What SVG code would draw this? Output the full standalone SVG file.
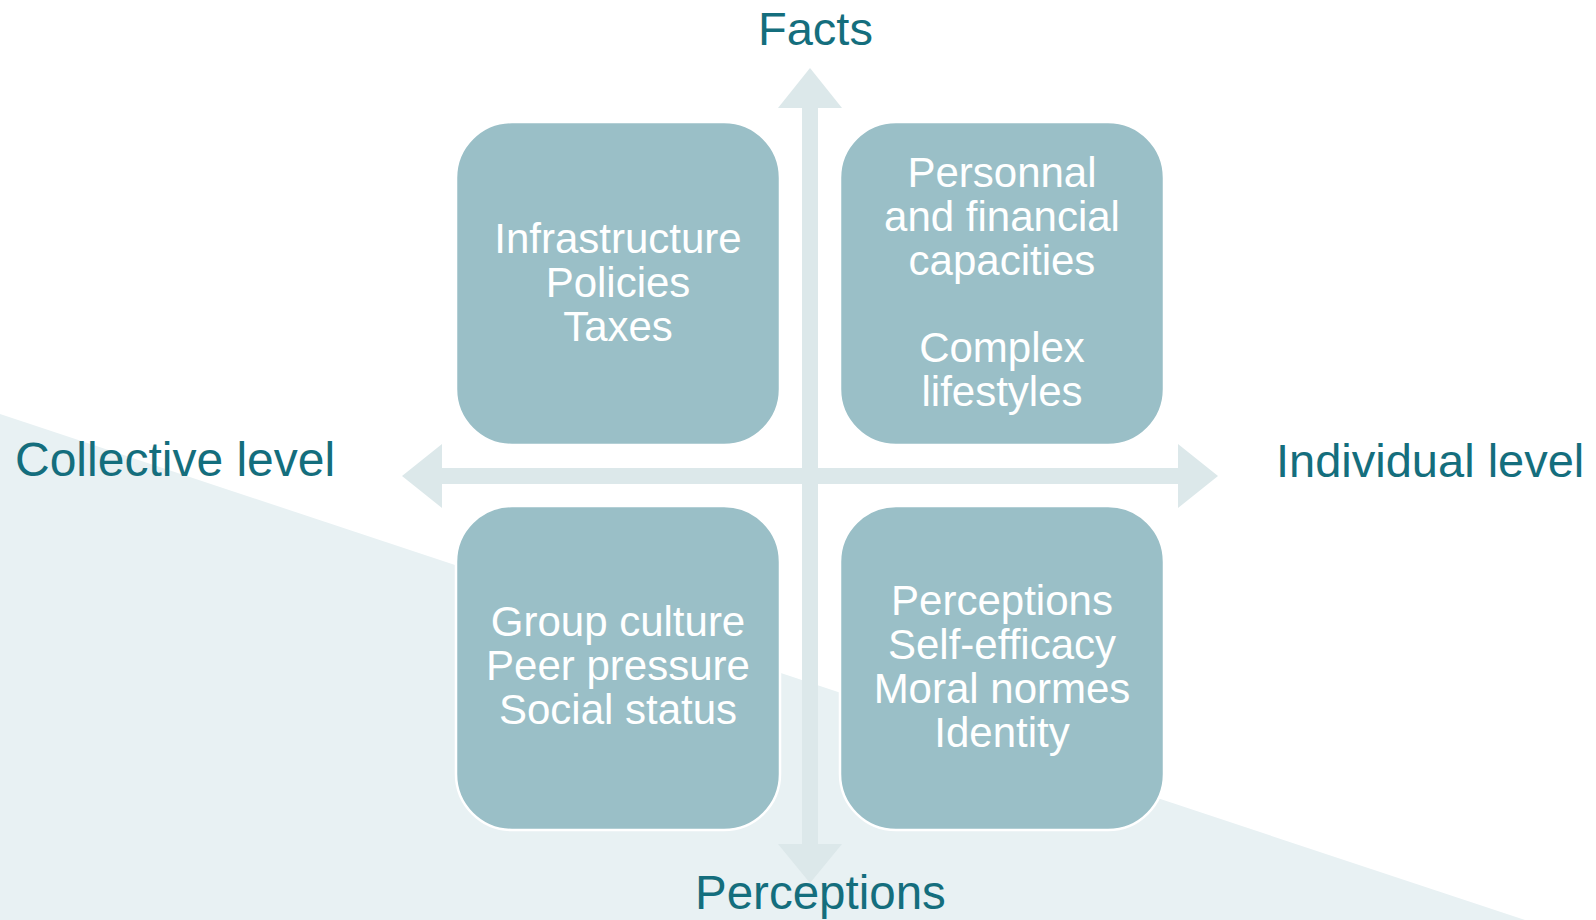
<svg xmlns="http://www.w3.org/2000/svg" width="1596" height="920" viewBox="0 0 1596 920">
<style>
.bg{fill:#e8f1f3}
.arrow{fill:#dce8ea}
.box{fill:#9abfc7;stroke:#ffffff;stroke-width:2.5}
.bt{font-family:"Liberation Sans",Arial,sans-serif;font-size:42px;fill:#ffffff;text-anchor:middle}
.ax{font-family:"Liberation Sans",Arial,sans-serif;font-size:47px;fill:#146e7d}
</style>
<rect x="0" y="0" width="1596" height="920" fill="#ffffff"/>
<polygon class="bg" points="0,414 1525,920 0,920"/>
<g id="connectors">
<polygon class="arrow" points="402,476 442,444 442,468 1178,468 1178,444 1218,476 1178,508 1178,484 442,484 442,508"/>
<polygon class="arrow" points="810,68 842,108 818,108 818,844 842,844 810,883 778,844 802,844 802,108 778,108"/>
</g>
<g id="node-infrastructure">
<rect class="box" x="456" y="122" width="324" height="323" rx="56" ry="56"/>
<text class="bt" x="618" y="253">Infrastructure</text>
<text class="bt" x="618" y="297">Policies</text>
<text class="bt" x="618" y="341">Taxes</text>
</g>
<g id="node-personal">
<rect class="box" x="840" y="122" width="324" height="323" rx="56" ry="56"/>
<text class="bt" x="1002" y="187">Personnal</text>
<text class="bt" x="1002" y="231">and financial</text>
<text class="bt" x="1002" y="275">capacities</text>
<text class="bt" x="1002" y="362">Complex</text>
<text class="bt" x="1002" y="406">lifestyles</text>
</g>
<g id="node-group">
<rect class="box" x="456" y="506" width="324" height="324" rx="56" ry="56"/>
<text class="bt" x="618" y="636">Group culture</text>
<text class="bt" x="618" y="680">Peer pressure</text>
<text class="bt" x="618" y="724">Social status</text>
</g>
<g id="node-perceptions">
<rect class="box" x="840" y="506" width="324" height="324" rx="56" ry="56"/>
<text class="bt" x="1002" y="615">Perceptions</text>
<text class="bt" x="1002" y="659">Self-efficacy</text>
<text class="bt" x="1002" y="703">Moral normes</text>
<text class="bt" x="1002" y="747">Identity</text>
</g>
<g id="axis-labels">
<text class="ax" x="758" y="45">Facts</text>
<text class="ax" x="695" y="909" style="font-size:47.5px">Perceptions</text>
<text class="ax" x="15" y="476" style="font-size:48px">Collective level</text>
<text class="ax" x="1276" y="477">Individual level</text>
</g>
</svg>
